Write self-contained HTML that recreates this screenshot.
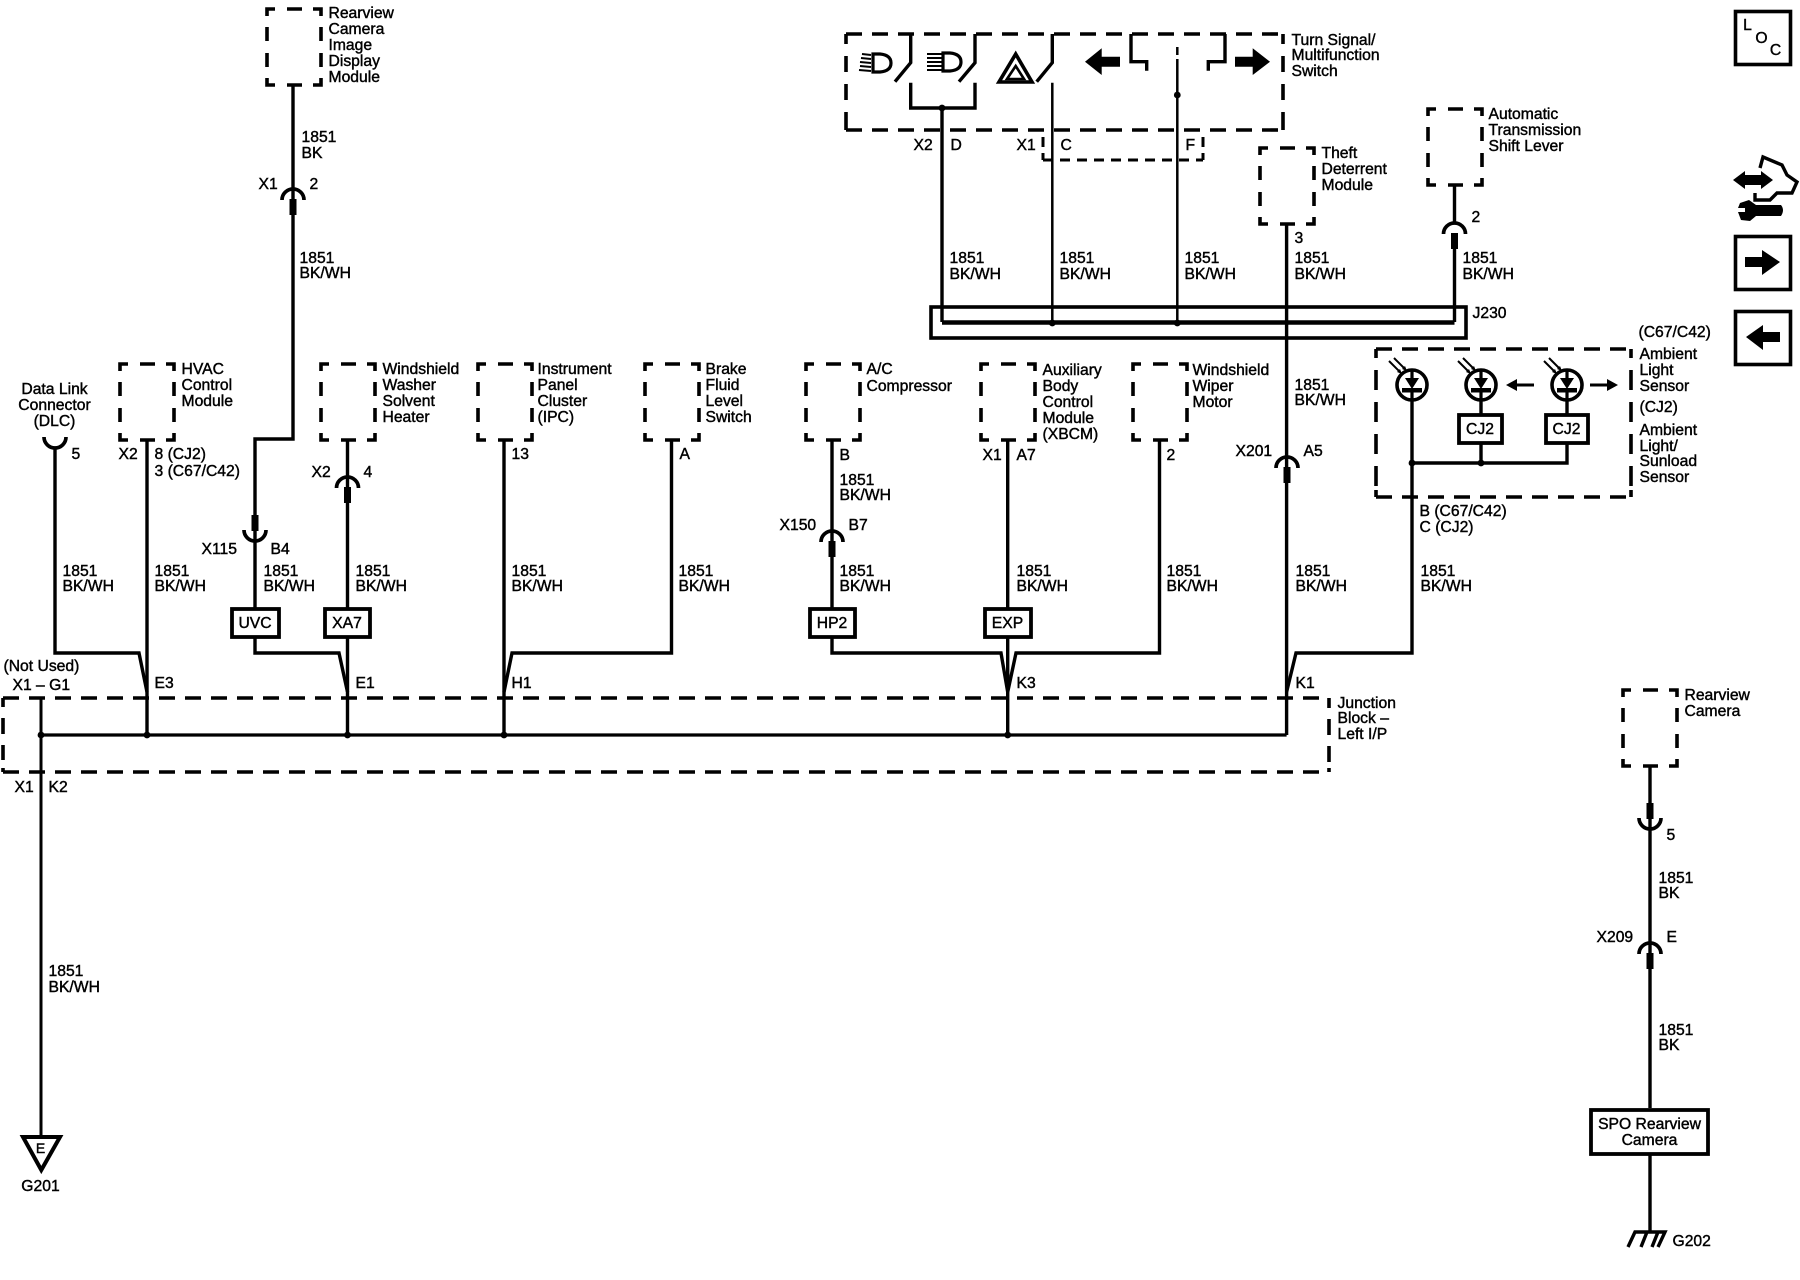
<!DOCTYPE html>
<html><head><meta charset="utf-8"><style>
html,body{margin:0;padding:0;background:#fff}
svg{display:block}
text{font-family:"Liberation Sans",sans-serif;font-size:15.7px;fill:#000;stroke:#000;stroke-width:.42;transform:translate(-.5px,-.8px)}
.m{text-anchor:middle}
.w{fill:none;stroke:#000;stroke-width:3.4;stroke-linejoin:miter}
.t{fill:none;stroke:#000;stroke-width:2.5}
.b{fill:#fff;stroke:#000;stroke-width:3.8}
.d{fill:none;stroke:#000;stroke-width:3.6}
.f{fill:#000;stroke:none}
</style></head><body>
<svg width="1800" height="1280" viewBox="0 0 1800 1280" xmlns="http://www.w3.org/2000/svg">
<defs>
<path id="db" class="d" d="M0,7V0H8M20,0H35M46,0H54V7M0,18V32M0,44V58M0,69V76H8M20,76H35M46,76H54V69M54,18V32M54,44V58"/>
<g id="up"><path class="w" style="stroke-width:3.7" d="M-11,11A11,11 0 0 1 11,11"/><rect class="f" x="-3.5" y="10" width="7" height="16"/></g>
<g id="dn"><path class="w" style="stroke-width:3.7" d="M-11,-11A11,11 0 0 0 11,-11"/><rect class="f" x="-3.5" y="-26" width="7" height="16"/></g>
<g id="sens">
<circle cx="0" cy="0" r="15" fill="#fff" stroke="#000" stroke-width="3.6"/>
<path class="f" d="M-7,-7H7L0,4Z"/><rect class="f" x="-10" y="3" width="20" height="4.5"/><rect class="f" x="-1.6" y="-15" width="3.2" height="10"/><rect class="f" x="-1.6" y="5" width="3.2" height="10"/>
<path class="t" style="stroke-width:2" d="M-23,-24L-12,-13M-18,-27L-7,-16"/>
<path class="f" d="M-10,-11L-15,-13L-12,-16ZM-5,-14L-10,-16L-7,-19Z"/>
</g>
<circle id="dot" r="3.4" fill="#000"/>
</defs>

<!-- dashed boxes -->
<use href="#db" x="267" y="9"/><use href="#db" x="120" y="364"/><use href="#db" x="321" y="364"/>
<use href="#db" x="478" y="364"/><use href="#db" x="645" y="364"/><use href="#db" x="806" y="364"/>
<use href="#db" x="981" y="364"/><use href="#db" x="1133" y="364"/><use href="#db" x="1260" y="148"/>
<use href="#db" x="1428" y="109"/><use href="#db" x="1623" y="690"/>

<!-- Junction block -->
<path class="d" stroke-dasharray="16 10" d="M3,698H1329"/>
<path class="d" stroke-dasharray="16 10" d="M3,772H1329"/>
<path class="d" d="M3,707V698M3,718V734M3,745V760M3,768V772M1329,698V708M1329,719V735M1329,746V762M1329,768V772"/>

<!-- Turn signal box -->
<path class="d" stroke-dasharray="16 10" d="M846,34H1283"/>
<path class="d" stroke-dasharray="16 10" d="M846,130H1283"/>
<path class="d" d="M846,34V44M846,56V72M846,84V100M846,112V130M1283,34V44M1283,56V72M1283,84V100M1283,112V130"/>
<path class="d" style="stroke-width:3" stroke-dasharray="10 7" d="M1043,160H1203"/>
<path class="d" style="stroke-width:3" d="M1043,137V147M1043,153V160M1203,137V147M1203,153V160"/>

<!-- Ambient box -->
<path class="d" stroke-dasharray="16 10" d="M1376,349H1631"/>
<path class="d" stroke-dasharray="16 10" d="M1376,497H1631"/>
<path class="d" d="M1376,349V358M1376,370V390M1376,402V422M1376,434V454M1376,466V486M1376,490V497M1631,349V358M1631,370V390M1631,402V422M1631,434V454M1631,466V486M1631,490V497"/>

<!-- wires top left -->
<path class="w" d="M293,85V439H255V608"/>
<path class="w" d="M255,637V653H339L347.5,692V735"/>
<path class="w" d="M347.5,440V608M347.5,637V692"/>
<path class="w" d="M55,447V653H139L147,692"/>
<path class="w" d="M147,440V735"/>
<path class="w" d="M504,440V735"/>
<path class="w" d="M671.5,440V653H512L504,692"/>
<path class="w" d="M832,440V608M832,637V653H1001L1007.7,692"/>
<path class="w" d="M1007.7,440V735"/>
<path class="w" d="M1159.5,440V653H1016L1007.7,692"/>
<path class="w" d="M1286.6,224V735"/>
<path class="w" d="M1412,385V653H1296L1286.6,692"/>
<path class="t" style="stroke-width:3.2" d="M41,735H1286.6"/>
<path class="t" style="stroke-width:3" d="M41,698V1136"/>
<use href="#dot" x="41" y="735"/><use href="#dot" x="147" y="735"/><use href="#dot" x="347.5" y="735"/><use href="#dot" x="504" y="735"/><use href="#dot" x="1007.7" y="735"/>

<!-- connectors -->
<use href="#up" x="293" y="189"/><use href="#dn" x="255" y="541"/>
<use href="#up" x="347.5" y="477"/>
<path class="w" style="stroke-width:3.7" d="M44,437A11,11 0 0 0 66,437"/>
<use href="#up" x="832" y="531"/>
<use href="#up" x="1287" y="457"/>
<use href="#up" x="1454.5" y="223"/>
<use href="#dn" x="1650" y="829"/>
<use href="#up" x="1650" y="943"/>

<!-- UVC etc boxes -->
<rect class="b" x="232" y="609" width="47" height="28"/>
<rect class="b" x="325" y="609" width="45" height="28"/>
<rect class="b" x="810" y="609" width="45" height="28"/>
<rect class="b" x="985" y="609" width="46" height="28"/>
<text class="m" x="255.5" y="629">UVC</text><text class="m" x="347.5" y="629">XA7</text><text class="m" x="832.5" y="629">HP2</text><text class="m" x="1008" y="629">EXP</text>

<!-- Turn signal internals -->
<path class="w" d="M910.7,34V62.7L895,81.7M975,34V62.7L959,81.7M1052.3,34V62.7L1036.7,81.7"/>
<path class="w" d="M910.7,82.7V108H975V82.7"/>
<path class="w" d="M1131,34V61.7H1146.7V70.7M1208.3,70.7V61.7H1225V34"/>
<path class="w" d="M942,108V322"/>
<path class="t" d="M1052.3,82.7V322M1177.3,59V322"/>
<path class="t" d="M1177.3,47V55"/>
<use href="#dot" x="942" y="108"/><use href="#dot" x="1177.3" y="95"/>
<path class="f" d="M1085,61.7L1101.7,48.3V56.7H1120V66.7H1101.7V75Z"/>
<path class="f" d="M1270,61.7L1252.7,48.3V56.7H1235V66.7H1252.7V75Z"/>
<path class="b" style="stroke-width:3.2" d="M873,54H880Q891,55 891,63Q891,71 880,72H873Z"/>
<path class="t" style="stroke-width:2" d="M862,54L871,55M861,58L871,59M860,62L871,63M860,66L871,67M859,70L871,71"/>
<path class="b" style="stroke-width:3.2" d="M943,53H950Q961,54 961,62Q961,70 950,71H943Z"/>
<path class="t" style="stroke-width:2" d="M927,54H942M927,58H942M927,62H942M927,66H942M927,70H942"/>
<path d="M1015.7,54L999,82H1032Z" fill="#fff" stroke="#000" stroke-width="3.6"/>
<path d="M1015.7,66L1007,79H1024Z" fill="#fff" stroke="#000" stroke-width="2.6"/>

<!-- J230 -->
<rect x="931" y="307" width="535" height="31" fill="none" stroke="#000" stroke-width="3.6"/>
<path class="w" style="stroke-width:4.6" d="M942,322.5H1454.5"/>
<path class="w" d="M1454.5,184V223M1454.5,249V322"/>
<use href="#dot" x="1052.3" y="323"/><use href="#dot" x="1177.3" y="323"/>

<!-- Ambient internals -->
<path class="w" d="M1481,400V414M1481,443V463M1567,400V414M1567,443V463H1412"/>
<use href="#sens" x="1412" y="385"/><use href="#sens" x="1481" y="385"/><use href="#sens" x="1567" y="385"/>
<use href="#dot" x="1412" y="463"/><use href="#dot" x="1481" y="463"/>
<rect class="b" x="1459" y="415" width="43" height="28"/>
<rect class="b" x="1546" y="415" width="42" height="28"/>
<text class="m" x="1480.5" y="435">CJ2</text><text class="m" x="1567" y="435">CJ2</text>
<path class="w" style="stroke-width:3" d="M1512,385H1534M1590,385H1612"/>
<path class="f" d="M1506,385L1517,379V391ZM1618,385L1607,379V391Z"/>

<!-- Right column -->
<path class="w" d="M1650,766V1108M1650,1154V1231"/>
<rect class="b" x="1591" y="1110" width="117" height="44"/>
<text class="m" x="1650" y="1130">SPO Rearview</text><text class="m" x="1650" y="1146">Camera</text>
<path class="w" d="M1628,1247L1635,1232H1665L1658,1247M1641,1247L1647,1232M1652,1247L1658,1232"/>

<!-- G201 -->
<path d="M23,1137H60L41.3,1170Z" fill="#fff" stroke="#000" stroke-width="4"/>
<text class="m" x="41" y="1154" style="font-size:14px">E</text>
<text class="m" x="41" y="1192">G201</text>

<!-- Right icons -->
<rect x="1735.5" y="11.5" width="55" height="53" fill="none" stroke="#000" stroke-width="3.6"/>
<text class="m" x="1748" y="31">L</text><text class="m" x="1762" y="44">O</text><text class="m" x="1776" y="56">C</text>
<rect x="1735.5" y="236.5" width="55" height="53" fill="none" stroke="#000" stroke-width="3.6"/>
<path class="f" d="M1780,262L1762,250V257H1745V267H1762V275Z"/>
<rect x="1735.5" y="311.5" width="55" height="53" fill="none" stroke="#000" stroke-width="3.6"/>
<path class="f" d="M1746,337L1763,325V332H1780V342H1763V350Z"/>
<path class="f" d="M1733,180L1745,171V175H1761V171L1773,180L1761,189V185H1745V189Z"/>
<path class="w" d="M1760,168L1763,157L1782,165L1787,175L1797,182L1792,193H1777L1770,200H1755V193"/>
<path class="f" d="M1740,203L1749,200L1756,205H1781Q1785,210 1781,216H1756L1750,221L1741,220L1738,212H1745V208H1738Z"/>

<!-- Labels: components -->
<g>
<text x="329" y="19">Rearview</text><text x="329" y="35">Camera</text><text x="329" y="51">Image</text><text x="329" y="67">Display</text><text x="329" y="83">Module</text>
<text class="m" x="55" y="395">Data Link</text><text class="m" x="55" y="411">Connector</text><text class="m" x="55" y="427">(DLC)</text>
<text x="182" y="375">HVAC</text><text x="182" y="391">Control</text><text x="182" y="407">Module</text>
<text x="383" y="375">Windshield</text><text x="383" y="391">Washer</text><text x="383" y="407">Solvent</text><text x="383" y="423">Heater</text>
<text x="538" y="375">Instrument</text><text x="538" y="391">Panel</text><text x="538" y="407">Cluster</text><text x="538" y="423">(IPC)</text>
<text x="706" y="375">Brake</text><text x="706" y="391">Fluid</text><text x="706" y="407">Level</text><text x="706" y="423">Switch</text>
<text x="867" y="375">A/C</text><text x="867" y="392">Compressor</text>
<text x="1043" y="376">Auxiliary</text><text x="1043" y="392">Body</text><text x="1043" y="408">Control</text><text x="1043" y="424">Module</text><text x="1043" y="440">(XBCM)</text>
<text x="1193" y="376">Windshield</text><text x="1193" y="392">Wiper</text><text x="1193" y="408">Motor</text>
<text x="1292" y="46">Turn Signal/</text><text x="1292" y="61">Multifunction</text><text x="1292" y="77">Switch</text>
<text x="1322" y="159">Theft</text><text x="1322" y="175">Deterrent</text><text x="1322" y="191">Module</text>
<text x="1489" y="120">Automatic</text><text x="1489" y="136">Transmission</text><text x="1489" y="152">Shift Lever</text>
<text x="1473" y="319">J230</text>
<text x="1639" y="338">(C67/C42)</text><text x="1640" y="360">Ambient</text><text x="1640" y="376">Light</text><text x="1640" y="392">Sensor</text><text x="1640" y="413">(CJ2)</text><text x="1640" y="436">Ambient</text><text x="1640" y="452">Light/</text><text x="1640" y="467">Sunload</text><text x="1640" y="483">Sensor</text>
<text x="1420" y="517">B (C67/C42)</text><text x="1420" y="533">C (CJ2)</text>
<text x="1338" y="709">Junction</text><text x="1338" y="724">Block –</text><text x="1338" y="740">Left I/P</text>
<text x="1685" y="701">Rearview</text><text x="1685" y="717">Camera</text>
<text x="1673" y="1247">G202</text>
</g>

<!-- Labels: pins -->
<g>
<text x="302" y="143">1851</text><text x="302" y="159">BK</text>
<text x="259" y="190">X1</text><text x="310" y="190">2</text>
<text x="300" y="264">1851</text><text x="300" y="279">BK/WH</text>
<text x="72" y="460">5</text><text x="119" y="460">X2</text><text x="155" y="460">8 (CJ2)</text><text x="155" y="477">3 (C67/C42)</text>
<text x="312" y="478">X2</text><text x="364" y="478">4</text><text x="512" y="460">13</text><text x="680" y="460">A</text>
<text x="202" y="555">X115</text><text x="271" y="555">B4</text>
<text x="840" y="461">B</text><text x="840" y="486">1851</text><text x="840" y="501">BK/WH</text>
<text x="780" y="531">X150</text><text x="849" y="531">B7</text>
<text x="983" y="461">X1</text><text x="1017" y="461">A7</text><text x="1167" y="461">2</text>
<text x="1236" y="457">X201</text><text x="1304" y="457">A5</text>
<text x="1295" y="391">1851</text><text x="1295" y="406">BK/WH</text>
<text x="1295" y="244">3</text><text x="1472" y="223">2</text>
<text x="914" y="151">X2</text><text x="951" y="151">D</text><text x="1017" y="151">X1</text><text x="1061" y="151">C</text><text x="1186" y="151">F</text>
<text x="950" y="264">1851</text><text x="950" y="280">BK/WH</text>
<text x="1060" y="264">1851</text><text x="1060" y="280">BK/WH</text>
<text x="1185" y="264">1851</text><text x="1185" y="280">BK/WH</text>
<text x="1295" y="264">1851</text><text x="1295" y="280">BK/WH</text>
<text x="1463" y="264">1851</text><text x="1463" y="280">BK/WH</text>
<text x="63" y="577">1851</text><text x="63" y="592">BK/WH</text>
<text x="155" y="577">1851</text><text x="155" y="592">BK/WH</text>
<text x="264" y="577">1851</text><text x="264" y="592">BK/WH</text>
<text x="356" y="577">1851</text><text x="356" y="592">BK/WH</text>
<text x="512" y="577">1851</text><text x="512" y="592">BK/WH</text>
<text x="679" y="577">1851</text><text x="679" y="592">BK/WH</text>
<text x="840" y="577">1851</text><text x="840" y="592">BK/WH</text>
<text x="1017" y="577">1851</text><text x="1017" y="592">BK/WH</text>
<text x="1167" y="577">1851</text><text x="1167" y="592">BK/WH</text>
<text x="1296" y="577">1851</text><text x="1296" y="592">BK/WH</text>
<text x="1421" y="577">1851</text><text x="1421" y="592">BK/WH</text>
<text x="4" y="672">(Not Used)</text><text x="13" y="691">X1 – G1</text>
<text x="155" y="689">E3</text><text x="356" y="689">E1</text><text x="512" y="689">H1</text><text x="1017" y="689">K3</text><text x="1296" y="689">K1</text>
<text x="15" y="793">X1</text><text x="49" y="793">K2</text>
<text x="49" y="977">1851</text><text x="49" y="993">BK/WH</text>
<text x="1667" y="841">5</text>
<text x="1659" y="884">1851</text><text x="1659" y="899">BK</text>
<text x="1597" y="943">X209</text><text x="1667" y="943">E</text>
<text x="1659" y="1036">1851</text><text x="1659" y="1051">BK</text>
</g>
</svg>
</body></html>
